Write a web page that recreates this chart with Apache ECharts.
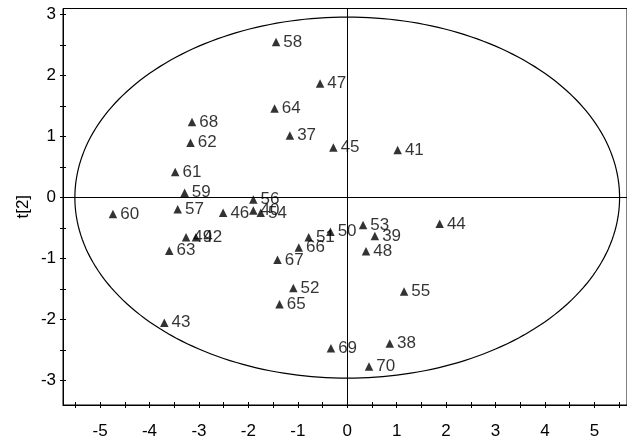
<!DOCTYPE html>
<html>
<head>
<meta charset="utf-8">
<script src="https://cdn.jsdelivr.net/npm/echarts@6/dist/echarts.min.js"></script>
<style>
  html, body { margin: 0; padding: 0; background: #fff; }
  #chart { width: 627px; height: 443px; }
</style>
</head>
<body>
<div id="chart"></div>
<script>
// Score plot t[1] vs t[2] for samples 37-70
const sampleIds = [37, 38, 39, 40, 41, 42, 43, 44, 45, 46, 47, 48, 49, 50, 51, 52, 53,
                   54, 55, 56, 57, 58, 59, 60, 61, 62, 63, 64, 65, 66, 67, 68, 69, 70];
const t1Values = [-1.16, 0.86, 0.56, -1.90, 1.02, -3.06, -3.70, 1.87, -0.28, -2.51, -0.55, 0.38, -3.26, -0.34, -0.78, -1.09, 0.32,
                  -1.75, 1.15, -1.90, -3.43, -1.44, -3.29, -4.74, -3.48, -3.17, -3.60, -1.47, -1.37, -0.98, -1.41, -3.14, -0.33, 0.44];
const t2Values = [1.02, -2.39, -0.63, -0.21, 0.78, -0.65, -2.05, -0.43, 0.82, -0.25, 1.87, -0.88, -0.65, -0.56, -0.65, -1.48, -0.45,
                  -0.25, -1.54, -0.03, -0.19, 2.55, 0.08, -0.27, 0.42, 0.90, -0.87, 1.46, -1.75, -0.82, -1.02, 1.24, -2.47, -2.77];

// Hotelling T2 confidence ellipse (semi-axes along t[1] and t[2])
const ellipseAxes = [5.51, 2.96];

// Axis ticks and labels
const xTickValues = [-5.5, -5, -4.5, -4, -3.5, -3, -2.5, -2, -1.5, -1, -0.5, 0, 0.5, 1, 1.5, 2, 2.5, 3, 3.5, 4, 4.5, 5, 5.5];
const xTickLabels = [-5, -4, -3, -2, -1, 0, 1, 2, 3, 4, 5];
const yTickValues = [-3, -2.5, -2, -1.5, -1, -0.5, 0, 0.5, 1, 1.5, 2, 2.5, 3];
const yTickLabels = [-3, -2, -1, 0, 1, 2, 3];

const FONT = 'Liberation Sans, Arial, sans-serif';
const FONT_SIZE = 17;
const xRange = [-5.75, 5.66];
const yRange = [-3.4, 3.1];

const points = sampleIds.map((id, i) => [t1Values[i], t2Values[i], String(id)]);

function mainAxis(range, ticks, extra) {
  return Object.assign({
    type: 'value',
    min: range[0],
    max: range[1],
    splitLine: { show: false },
    axisLine: { show: true, onZero: false, lineStyle: { color: '#000', width: 1 } },
    axisTick: { show: true, inside: false, length: 3, customValues: ticks, lineStyle: { color: '#000' } }
  }, extra);
}

function tickOverlay(range, ticks, position) {
  return {
    type: 'value',
    min: range[0],
    max: range[1],
    position: position,
    splitLine: { show: false },
    axisLine: { show: false, onZero: false },
    axisTick: { show: true, inside: true, length: 3, customValues: ticks, lineStyle: { color: '#000' } },
    axisLabel: { show: false }
  };
}

const chart = echarts.init(document.getElementById('chart'), null, { renderer: 'canvas' });

chart.setOption({
  backgroundColor: '#fff',
  animation: false,
  grid: {
    left: 63, top: 8.5, width: 565, height: 396.5,
    show: true, borderColor: '#000', borderWidth: 1, backgroundColor: 'transparent'
  },
  xAxis: [
    mainAxis(xRange, xTickValues, {
      position: 'bottom',
      axisLabel: { show: true, customValues: xTickLabels, color: '#000', fontSize: FONT_SIZE, fontFamily: FONT, margin: 18 }
    }),
    tickOverlay(xRange, xTickValues, 'bottom')
  ],
  yAxis: [
    mainAxis(yRange, yTickValues, {
      position: 'left',
      name: 't[2]',
      nameLocation: 'middle',
      nameGap: 31,
      nameRotate: 90,
      nameMoveOverlap: false,
      nameTextStyle: { color: '#000', fontSize: FONT_SIZE, fontFamily: FONT },
      axisLabel: { show: true, customValues: yTickLabels, color: '#000', fontSize: FONT_SIZE, fontFamily: FONT, margin: 7 }
    }),
    tickOverlay(yRange, yTickValues, 'left')
  ],
  series: [
    {
      type: 'custom',
      name: 'ellipse',
      xAxisIndex: 0,
      yAxisIndex: 0,
      silent: true,
      z: 1,
      data: [[0, 0, ellipseAxes[0], ellipseAxes[1]]],
      renderItem: function (params, api) {
        const cx = api.value(0), cy = api.value(1);
        const rx = api.value(2), ry = api.value(3);
        const pts = [];
        for (let k = 0; k <= 240; k++) {
          const a = (k / 240) * Math.PI * 2;
          pts.push(api.coord([cx + rx * Math.cos(a), cy + ry * Math.sin(a)]));
        }
        return {
          type: 'polyline',
          shape: { points: pts },
          style: { fill: null, stroke: '#000', lineWidth: 1.2 }
        };
      }
    },
    {
      type: 'scatter',
      name: 'scores',
      xAxisIndex: 0,
      yAxisIndex: 0,
      z: 3,
      symbol: 'triangle',
      symbolSize: 8.5,
      itemStyle: { color: '#000' },
      data: points,
      label: {
        show: true,
        position: 'right',
        distance: 3,
        formatter: p => p.data[2],
        color: '#000',
        fontSize: FONT_SIZE,
        fontFamily: FONT
      },
      markLine: {
        silent: true,
        symbol: ['none', 'none'],
        label: { show: false },
        lineStyle: { color: '#000', width: 1, type: 'solid' },
        data: [{ xAxis: 0 }, { yAxis: 0 }]
      }
    }
  ]
});
</script>
</body>
</html>
